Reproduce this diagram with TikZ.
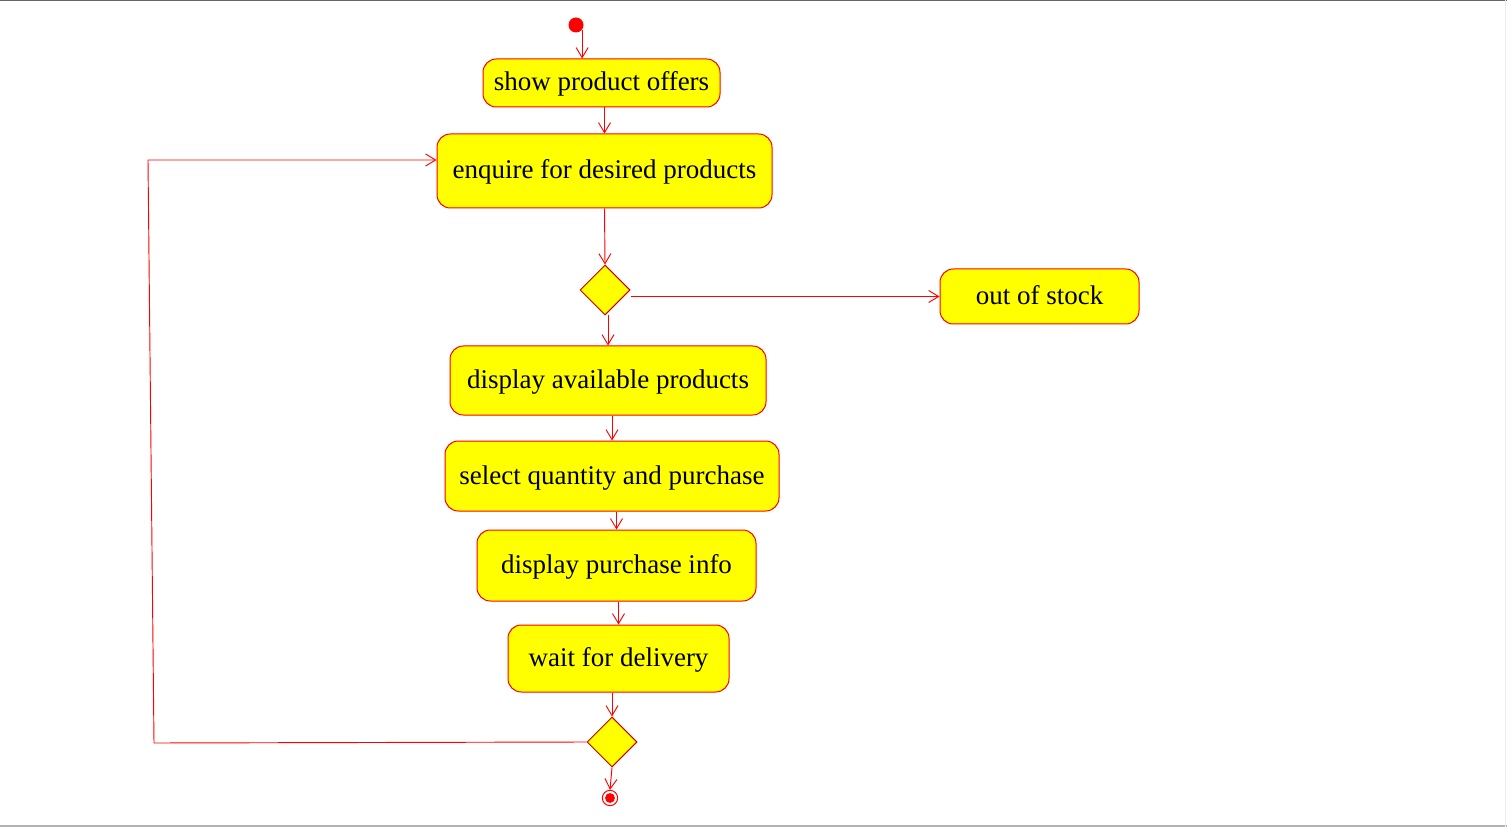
\documentclass[tikz,border=0pt]{standalone}
\usepackage{fontspec}
\setmainfont{Liberation Serif}
\usetikzlibrary{shapes.geometric,arrows.meta}

\definecolor{actfill}{RGB}{255,255,0}
\tikzset{every picture/.style={line width=0.75pt}}
\tikzset{
  activity/.style={draw=red, fill=actfill, rounded corners=10pt, inner sep=0pt, text height=16.5pt, text depth=4.5pt, font=\fontsize{20.25pt}{24pt}\selectfont},
  branch/.style={diamond, draw=red!80!black, fill=actfill, minimum size=37.5pt, inner sep=0pt},
  flow/.style={draw=red, line width=0.7pt, -{Straight Barb[length=7.5pt,width=9pt]}},
}

\begin{document}
\begin{tikzpicture}[x=0.75pt,y=0.75pt,yscale=-1,xscale=1]
\path[use as bounding box] (0,0) rectangle (1507,827);

%Frame lines
\draw[gray!80!black, line width=1.1pt] (0,0.7) -- (1507,0.7);
\draw[gray!60, line width=1.1pt] (0,826) -- (1507,826);
\draw[gray!15] (1505,0) -- (1505,827);

%Start and end
\node[circle, fill=red, minimum size=11.25pt, inner sep=0pt] (start) at (576,25) {};
\node[circle, draw=red, fill=white, minimum size=11.5pt, inner sep=0pt] (end) at (610,798) {};
\fill[red] (end.center) circle (3.7pt);

%Activities
\node[activity, minimum width=177.75pt, minimum height=36pt] (show) at (601.5,83) {show product offers};
\node[activity, minimum width=251.25pt, minimum height=55.5pt] (enquire) at (604.5,171) {enquire for desired products};
\node[branch] (check) at (605,290) {};
\node[activity, minimum width=149.25pt, minimum height=41.25pt] (stock) at (1039.5,296.5) {out of stock};
\node[activity, minimum width=237pt, minimum height=51.75pt] (avail) at (608,380.5) {display available products};
\node[activity, minimum width=250.5pt, minimum height=52.5pt] (select) at (612,476) {select quantity and purchase};
\node[activity, minimum width=209.25pt, minimum height=53.25pt] (info) at (616.5,565.5) {display purchase info};
\node[activity, minimum width=165.75pt, minimum height=50.25pt] (wait) at (618.5,658.5) {wait for delivery};
\node[branch] (merge) at (612,742) {};

%Flows
\draw[flow] (start.-40) -- (start.-40 |- show.north);
\draw[flow] (enquire.north |- show.south) -- (enquire.north);
\draw[flow] (enquire.south) -- (check.north);
\draw[flow] (check.east |- stock.west) -- (stock.west);
\draw[flow] (avail.north |- check.south) -- (avail.north);
\draw[flow] (select.north |- avail.south) -- (select.north);
\draw[flow] (info.north |- select.south) -- (info.north);
\draw[flow] (wait.north |- info.south) -- (wait.north);
\draw[flow] (merge.north |- wait.south) -- (merge.north);
\draw[flow] (merge.south) -- (end.north);

%Loop back
\coordinate (loopbot) at (154,743);
\coordinate (looptop) at (148,160);
\draw[flow] (merge.west) -- (loopbot) -- (looptop) -- (looptop -| enquire.west);

\end{tikzpicture}
\end{document}
